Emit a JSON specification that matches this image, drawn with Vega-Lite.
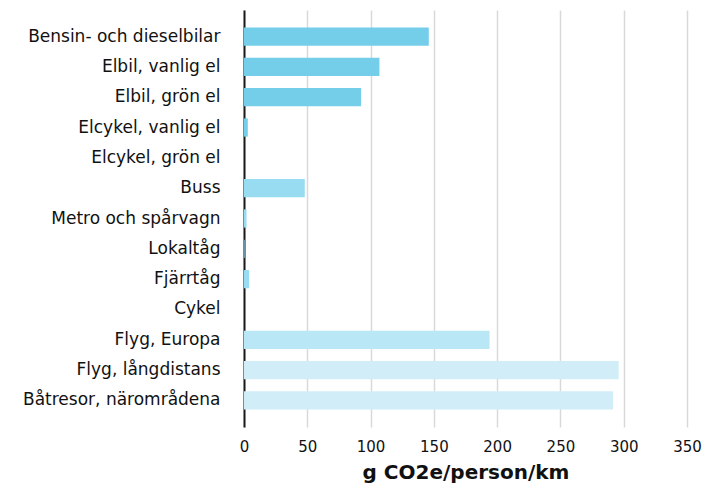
{
  "$schema": "https://vega.github.io/schema/vega-lite/v6.json",
  "autosize": {"type": "none"},
  "padding": {"left": 244, "top": 10, "right": 32, "bottom": 63},
  "width": 443,
  "height": 417,
  "background": "white",
  "config": {"view": {"stroke": null}, "font": "DejaVu Sans"},
  "data": {
    "values": [
      {"fardmedel": "Bensin- och dieselbilar", "varde": 146, "grupp": "bil"},
      {"fardmedel": "Elbil, vanlig el", "varde": 107, "grupp": "bil"},
      {"fardmedel": "Elbil, grön el", "varde": 92.5, "grupp": "bil"},
      {"fardmedel": "Elcykel, vanlig el", "varde": 3, "grupp": "bil"},
      {"fardmedel": "Elcykel, grön el", "varde": 0, "grupp": "bil"},
      {"fardmedel": "Buss", "varde": 48, "grupp": "kollektiv"},
      {"fardmedel": "Metro och spårvagn", "varde": 2, "grupp": "kollektiv"},
      {"fardmedel": "Lokaltåg", "varde": 0.5, "grupp": "kollektiv"},
      {"fardmedel": "Fjärrtåg", "varde": 4, "grupp": "kollektiv"},
      {"fardmedel": "Cykel", "varde": 0, "grupp": "kollektiv"},
      {"fardmedel": "Flyg, Europa", "varde": 194, "grupp": "flyg"},
      {"fardmedel": "Flyg, långdistans", "varde": 296, "grupp": "lang"},
      {"fardmedel": "Båtresor, närområdena", "varde": 291.5, "grupp": "lang"}
    ]
  },
  "mark": {"type": "bar"},
  "encoding": {
    "y": {
      "field": "fardmedel",
      "type": "nominal",
      "sort": null,
      "scale": {"paddingInner": 0.4, "paddingOuter": 0.575},
      "axis": {
        "title": null,
        "ticks": false,
        "domain": true,
        "domainColor": "#1a1a1a",
        "domainWidth": 2,
        "labelFontSize": 17,
        "labelColor": "#111111",
        "labelPadding": 24,
        "labelLimit": 300,
        "grid": false
      }
    },
    "x": {
      "field": "varde",
      "type": "quantitative",
      "scale": {"domain": [0, 350], "nice": false},
      "axis": {
        "values": [0, 50, 100, 150, 200, 250, 300, 350],
        "title": "g CO2e/person/km",
        "titleFontSize": 20,
        "titleFontWeight": "bold",
        "titleColor": "#111111",
        "titlePadding": 8,
        "domain": false,
        "ticks": false,
        "labelFlush": false,
        "labelFontSize": 15,
        "labelColor": "#111111",
        "labelPadding": 12,
        "grid": true,
        "gridColor": "#d9d9d9",
        "gridWidth": 1.5
      }
    },
    "color": {
      "field": "grupp",
      "type": "nominal",
      "scale": {
        "domain": ["bil", "kollektiv", "flyg", "lang"],
        "range": ["#74CEEA", "#97DCF0", "#BAE7F5", "#D0EDF8"]
      },
      "legend": null
    }
  }
}
